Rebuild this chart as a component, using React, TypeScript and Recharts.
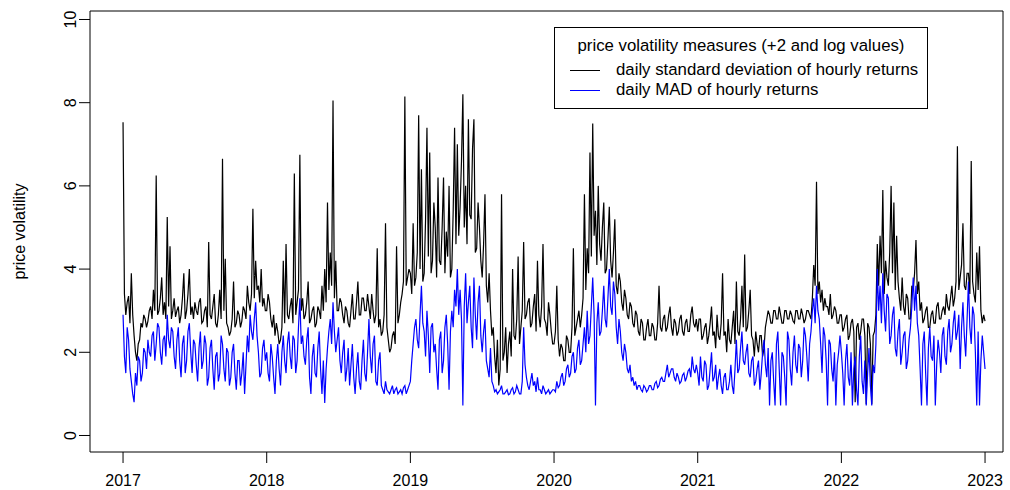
import React from "react"
import {
  LineChart,
  Line,
  XAxis,
  YAxis,
  Legend,
  ReferenceArea
} from "recharts"

const FONT = '"Liberation Sans", Arial, Helvetica, sans-serif'

// two values per week, 104 per year
const years = [2017, 2018, 2019, 2020, 2021, 2022]

const sd2017 = [7.53, 3.4, 2.9, 3.2, 3.35, 2.7, 3.9, 2.9, 2.4, 2.0, 1.8, 2.2, 2.3, 2.7, 2.6, 2.9, 2.8, 2.6, 2.75, 3.0, 3.1, 2.8, 3.5, 3.0, 6.25, 2.9, 3.0, 3.3, 3.8, 2.9, 3.2, 2.8, 5.25, 3.1, 4.55, 2.8, 3.0, 3.3, 2.85, 3.0, 3.1, 2.7, 2.9, 3.3, 3.9, 2.8, 3.0, 3.4, 4.0, 2.9, 3.1, 2.8, 3.2, 3.0, 2.9, 3.2, 3.3, 2.7, 2.75, 3.0, 3.1, 2.6, 4.65, 2.9, 2.8, 3.1, 3.4, 2.7, 2.6, 2.9, 3.5, 2.8, 6.65, 3.0, 4.25, 2.7, 2.6, 2.4, 2.5, 2.8, 3.7, 2.6, 2.7, 3.0, 2.9, 2.6, 2.75, 3.1, 3.0, 2.8, 3.6, 3.2, 3.0, 3.4, 5.45, 3.3, 4.2, 3.5, 3.6, 3.2, 4.0, 3.1, 3.3, 3.0]
const sd2018 = [3.0, 3.4, 3.2, 2.8, 2.6, 2.9, 2.4, 2.7, 2.5, 2.2, 2.3, 2.6, 4.2, 2.7, 4.6, 2.9, 2.8, 3.1, 3.3, 2.7, 6.3, 2.9, 3.2, 3.5, 6.75, 3.0, 3.3, 2.8, 2.9, 3.2, 3.7, 2.7, 2.8, 3.0, 3.1, 2.6, 2.7, 3.1, 3.0, 2.8, 3.6, 3.0, 4.0, 3.2, 5.6, 3.5, 4.4, 3.6, 8.05, 3.3, 4.2, 3.0, 3.0, 3.3, 3.2, 2.9, 2.7, 3.1, 3.0, 2.7, 2.6, 3.0, 3.4, 2.8, 2.8, 3.2, 3.7, 2.9, 2.9, 3.3, 3.3, 3.0, 3.0, 3.4, 3.1, 2.8, 3.4, 3.0, 2.7, 2.9, 4.5, 2.6, 2.8, 2.4, 2.5, 2.9, 5.1, 2.6, 2.3, 2.0, 2.1, 2.4, 2.5, 2.2, 4.55, 2.7, 2.9, 3.2, 3.4, 3.7, 8.15, 3.6, 3.8, 4.0]
const sd2019 = [3.9, 3.4, 5.1, 3.6, 3.8, 4.4, 7.7, 4.0, 6.4, 3.7, 3.9, 5.2, 7.4, 4.3, 6.8, 3.9, 4.2, 5.6, 5.0, 3.8, 6.2, 4.2, 4.1, 5.0, 6.2, 3.9, 4.9, 4.3, 6.0, 3.8, 4.0, 5.4, 7.4, 4.6, 7.0, 4.8, 5.5, 6.6, 8.2, 5.0, 6.0, 4.6, 7.6, 5.3, 5.2, 6.9, 7.6, 4.4, 4.5, 5.6, 5.0, 4.2, 3.8, 4.6, 5.8, 3.6, 3.2, 3.9, 3.0, 2.4, 2.6, 1.9, 1.5, 2.3, 1.2, 1.6, 5.8, 1.8, 2.0, 2.6, 1.5, 2.2, 2.5, 1.9, 4.0, 2.4, 2.3, 2.8, 4.3, 2.2, 2.6, 3.0, 4.65, 2.8, 2.9, 3.2, 3.3, 2.6, 2.7, 3.1, 3.4, 2.5, 4.2, 2.9, 2.6, 3.1, 4.6, 2.8, 2.7, 2.4, 3.2, 2.9, 2.5, 2.2]
const sd2020 = [2.2, 2.5, 3.6, 2.3, 1.9, 2.2, 2.1, 1.8, 1.8, 2.4, 2.3, 2.0, 2.0, 2.6, 4.5, 2.4, 2.6, 2.8, 3.0, 2.6, 2.9, 3.3, 5.8, 3.5, 4.5, 3.9, 6.8, 4.3, 7.5, 4.8, 5.4, 4.1, 6.0, 4.6, 4.2, 5.0, 5.6, 3.9, 4.0, 4.7, 5.5, 4.2, 3.8, 4.4, 5.2, 3.6, 3.4, 3.9, 3.7, 3.2, 3.0, 3.5, 3.3, 2.9, 2.8, 3.2, 3.1, 2.7, 2.6, 3.0, 2.9, 2.5, 2.4, 2.8, 2.7, 2.3, 2.3, 2.6, 2.8, 2.4, 2.4, 2.7, 2.6, 2.3, 2.3, 2.7, 3.6, 2.6, 2.5, 2.8, 2.9, 2.5, 2.6, 2.9, 3.1, 2.6, 2.4, 2.8, 2.7, 2.4, 2.5, 2.8, 2.9, 2.5, 2.4, 2.7, 2.8, 2.5, 2.5, 2.9, 3.1, 2.7, 2.6, 2.8]
const sd2021 = [2.5, 2.8, 2.8, 2.3, 2.4, 2.6, 2.7, 2.2, 2.4, 2.7, 3.1, 2.4, 2.5, 2.1, 2.9, 2.4, 2.3, 2.7, 3.9, 2.4, 2.5, 2.0, 2.8, 2.3, 2.2, 2.6, 3.0, 2.2, 3.7, 2.5, 2.4, 2.8, 3.6, 2.6, 4.35, 2.5, 2.6, 3.0, 3.5, 2.4, 2.3, 1.9, 2.5, 2.2, 2.0, 2.4, 2.4, 1.9, 2.1, 2.6, 2.8, 3.0, 2.9, 2.7, 2.7, 3.0, 3.0, 2.8, 2.8, 3.1, 2.9, 2.7, 2.7, 3.0, 3.0, 2.8, 2.8, 3.0, 2.9, 2.75, 2.7, 3.0, 3.0, 2.8, 2.8, 3.05, 2.9, 2.7, 2.8, 3.0, 3.0, 2.9, 2.8, 3.3, 4.1, 3.6, 6.1, 3.4, 3.7, 3.2, 3.5, 3.0, 3.3, 3.1, 3.1, 2.9, 3.4, 2.8, 2.9, 3.1, 3.0, 2.7, 2.7, 2.9]
const sd2022 = [2.9, 2.5, 2.6, 2.8, 2.9, 2.3, 2.4, 2.7, 2.8, 2.5, 0.8, 2.6, 2.7, 2.3, 2.5, 2.8, 2.8, 2.4, 0.75, 2.7, 2.6, 2.2, 0.75, 2.4, 2.5, 2.9, 4.6, 3.6, 4.8, 3.9, 5.9, 3.4, 4.2, 3.8, 3.6, 4.4, 6.0, 3.9, 5.6, 3.5, 4.8, 3.7, 3.3, 3.0, 3.8, 3.1, 2.9, 3.4, 3.3, 2.8, 2.8, 3.6, 3.5, 3.9, 4.7, 3.4, 3.7, 3.0, 3.2, 2.7, 2.8, 3.0, 3.1, 2.6, 2.6, 2.9, 3.0, 2.7, 2.7, 3.1, 3.2, 2.8, 2.8, 3.0, 3.1, 2.9, 3.4, 3.1, 3.0, 3.3, 3.6, 3.1, 3.3, 3.7, 6.95, 3.5, 3.8, 4.1, 5.1, 3.6, 3.5, 3.9, 3.9, 3.4, 6.6, 3.7, 3.4, 3.2, 4.4, 3.5, 4.55, 3.0, 2.7, 2.9]
const sdLast = 2.75

const mad2017 = [2.9, 1.9, 1.5, 2.6, 2.3, 1.6, 1.3, 1.0, 0.8, 1.5, 1.2, 1.9, 1.8, 1.3, 1.5, 2.1, 2.0, 1.6, 2.3, 2.0, 1.9, 2.4, 2.5, 1.8, 2.2, 2.7, 2.6, 2.0, 1.7, 2.3, 2.4, 1.9, 2.9, 2.3, 2.1, 2.6, 2.5, 1.9, 1.6, 2.3, 2.6, 1.8, 1.4, 2.2, 2.4, 1.5, 1.8, 2.5, 2.7, 2.0, 1.5, 2.3, 2.2, 1.7, 1.3, 2.1, 2.5, 1.6, 1.8, 2.4, 2.2, 1.2, 1.4, 2.1, 2.3, 1.6, 1.1, 1.9, 2.0, 1.3, 1.5, 2.4, 2.2, 1.6, 1.3, 2.1, 2.0, 1.2, 1.4, 2.0, 2.2, 1.5, 1.1, 1.8, 1.8, 1.2, 1.5, 2.0, 1.0, 1.7, 2.4, 2.0, 2.9, 2.5, 2.3, 2.8, 3.2, 2.4, 2.0, 1.4, 1.5, 2.1, 2.3, 1.8]
const mad2018 = [2.0, 1.5, 1.3, 2.2, 1.9, 1.4, 1.0, 1.8, 2.2, 1.6, 1.2, 2.0, 2.4, 1.8, 1.5, 2.2, 2.5, 1.9, 1.6, 2.4, 2.3, 1.5, 1.8, 2.6, 3.3, 2.2, 2.4, 1.9, 1.7, 2.3, 2.6, 1.4, 1.0, 1.9, 2.2, 1.5, 1.4, 2.1, 2.5, 1.6, 1.0, 1.8, 0.78, 1.6, 2.1, 2.5, 2.8, 2.2, 3.2, 2.5, 2.0, 2.3, 2.6, 1.8, 1.5, 2.0, 2.3, 1.3, 1.6, 2.1, 1.2, 1.7, 2.2, 1.4, 1.0, 1.6, 2.0, 1.3, 1.1, 1.8, 2.3, 1.5, 1.3, 2.0, 2.8, 1.9, 1.5, 2.2, 2.4, 1.3, 1.2, 1.8, 2.0, 1.2, 1.1, 1.0, 1.3, 1.1, 1.05, 1.0, 1.1, 1.2, 1.0, 1.1, 1.15, 1.0, 1.05, 1.1, 1.0, 1.15, 1.2, 1.0, 1.1, 1.2]
const mad2019 = [1.3, 1.8, 2.2, 2.6, 2.8, 2.3, 2.1, 2.9, 3.6, 2.7, 2.5, 1.9, 3.0, 2.4, 1.5, 2.6, 2.7, 2.0, 2.2, 1.6, 1.1, 2.3, 2.5, 1.5, 1.8, 2.6, 2.9, 2.2, 1.1, 2.5, 3.0, 2.6, 3.5, 3.1, 4.0, 2.9, 3.5, 2.8, 0.72, 3.1, 3.9, 2.7, 3.2, 3.6, 2.6, 2.1, 3.8, 2.9, 2.3, 3.2, 3.6, 2.4, 2.0, 2.5, 2.8, 1.8, 1.6, 1.4, 2.1, 1.3, 1.2, 1.05, 1.1, 1.0, 1.05, 1.1, 1.2, 1.0, 1.0, 1.05, 1.1, 0.98, 1.0, 1.1, 1.15, 1.0, 1.05, 1.2, 1.1, 1.0, 1.0, 1.3, 2.6, 1.7, 1.4, 1.2, 1.1, 1.3, 1.5, 1.2, 1.3, 1.05, 1.4, 1.1, 1.1, 1.0, 1.2, 1.1, 1.0, 1.05, 1.1, 1.0, 1.05, 1.1]
const mad2020 = [1.1, 1.05, 1.3, 1.15, 1.2, 1.4, 1.5, 1.2, 1.3, 1.6, 1.7, 1.4, 1.5, 1.9, 2.0, 1.5, 1.6, 2.1, 2.3, 1.7, 1.8, 2.2, 2.6, 2.0, 3.0, 2.2, 2.4, 3.1, 3.8, 2.9, 0.72, 2.7, 3.2, 2.4, 2.5, 3.0, 3.6, 2.8, 2.6, 3.3, 4.0, 3.1, 2.9, 3.7, 3.4, 2.6, 2.2, 2.8, 2.5, 2.0, 1.8, 2.2, 2.0, 1.6, 1.5, 1.7, 1.3, 1.4, 1.2, 1.3, 1.1, 1.2, 1.2, 1.1, 1.05, 1.2, 1.15, 1.05, 1.1, 1.2, 1.2, 1.1, 1.1, 1.25, 1.3, 1.15, 1.2, 1.35, 1.4, 1.3, 1.3, 1.5, 1.7, 1.4, 1.5, 1.6, 1.6, 1.4, 1.3, 1.5, 1.4, 1.25, 1.3, 1.45, 1.5, 1.3, 1.4, 1.55, 1.6, 1.4, 1.9, 1.6, 1.5, 1.7]
const mad2021 = [1.5, 1.2, 1.9, 1.4, 1.3, 1.8, 1.7, 1.1, 1.2, 1.6, 2.0, 1.3, 1.4, 1.7, 1.1, 1.4, 1.6, 1.2, 1.0, 1.4, 1.5, 1.1, 1.1, 1.3, 1.7, 1.2, 1.0, 1.6, 2.3, 1.5, 1.6, 2.1, 2.5, 1.8, 1.7, 2.0, 2.2, 1.5, 1.4, 1.8, 1.9, 1.2, 1.3, 1.6, 1.8, 1.1, 1.5, 2.0, 2.3, 1.7, 1.4, 2.1, 0.72, 1.8, 2.0, 1.3, 0.72, 2.2, 2.5, 1.6, 0.72, 2.0, 1.9, 1.4, 0.72, 2.5, 2.3, 1.6, 1.2, 2.0, 2.4, 1.7, 1.5, 2.2, 2.1, 1.4, 1.8, 2.6, 2.4, 1.9, 1.3, 2.2, 2.5, 3.0, 3.3, 2.7, 3.6, 3.0, 2.8, 2.2, 1.5, 2.6, 2.4, 1.8, 0.72, 2.3, 2.2, 1.6, 1.3, 2.0, 0.72, 1.7, 2.0, 2.4]
const mad2022 = [2.0, 1.5, 0.72, 1.8, 2.2, 1.4, 1.2, 2.0, 0.72, 1.6, 1.9, 1.1, 0.72, 1.9, 2.4, 1.3, 1.0, 1.8, 0.72, 1.5, 2.1, 1.2, 0.72, 1.7, 1.5, 2.2, 4.0, 3.0, 3.6, 2.7, 3.9, 3.0, 2.5, 3.4, 3.3, 2.2, 2.4, 2.9, 3.1, 2.1, 1.9, 2.5, 2.8, 1.7, 2.0, 2.4, 2.5, 1.6, 1.8, 2.3, 2.6, 3.1, 3.8, 3.0, 3.6, 2.7, 2.4, 1.6, 0.72, 2.2, 2.5, 1.5, 0.72, 2.1, 2.6, 1.9, 1.8, 2.4, 0.72, 1.7, 2.3, 2.0, 1.5, 2.4, 2.6, 1.9, 1.7, 2.5, 2.8, 2.0, 2.2, 2.7, 3.0, 2.3, 2.5, 2.9, 1.6, 2.6, 3.2, 2.4, 1.9, 2.8, 3.7, 2.6, 2.2, 3.1, 2.9, 2.0, 0.72, 2.5, 0.72, 1.8, 2.4, 2.0]
const madLast = 1.6

const xTicks = [2017, 2018, 2019, 2020, 2021, 2022, 2023]
const yTicks = [0, 2, 4, 6, 8, 10]

const legendTitle = "price volatility measures (+2 and log values)"
const legendItems = [
  { label: "daily standard deviation of hourly returns", color: "#000" },
  { label: "daily MAD of hourly returns", color: "#0000ff" }
]

const sdByYear = [sd2017, sd2018, sd2019, sd2020, sd2021, sd2022]
const madByYear = [mad2017, mad2018, mad2019, mad2020, mad2021, mad2022]

const data = years.flatMap((yr, k) =>
  sdByYear[k].map((v, i) => ({ t: yr + i / 104, sd: v, mad: madByYear[k][i] }))
)
data.push({ t: 2023, sd: sdLast, mad: madLast })

const X_DOMAIN = [2016.77, 2023.125]
const Y_DOMAIN = [-0.397, 10.204]

const XTick = ({ x, y, payload }: any) => (
  <text x={x} y={y + 21} textAnchor="middle" fontFamily={FONT} fontSize={16} fill="#000">
    {payload.value}
  </text>
)

const YTick = ({ x, y, payload }: any) => {
  const bx = x - 1
  return (
    <text
      x={bx}
      y={y}
      transform={`rotate(-90 ${bx} ${y})`}
      textAnchor="middle"
      fontFamily={FONT}
      fontSize={16}
      fill="#000"
    >
      {payload.value}
    </text>
  )
}

const LegendBox = () => (
  <div
    style={{
      position: "relative",
      width: 374,
      height: 82,
      border: "1px solid #000",
      boxSizing: "border-box",
      background: "#fff",
      fontFamily: FONT,
      fontSize: 16.8,
      color: "#000"
    }}
  >
    <div style={{ position: "absolute", left: 0, right: 0, top: 9, lineHeight: "18px", textAlign: "center" }}>
      {legendTitle}
    </div>
    {legendItems.map((it, i) => (
      <div key={it.label} style={{ position: "absolute", left: 0, top: 33 + i * 20, height: 18, width: "100%" }}>
        <div style={{ position: "absolute", left: 15, top: 9, width: 30, height: 1, background: it.color }} />
        <div style={{ position: "absolute", left: 61, top: 0, lineHeight: "18px", whiteSpace: "nowrap" }}>
          {it.label}
        </div>
      </div>
    ))}
  </div>
)

export default function App() {
  return (
    <div style={{ position: "absolute", left: 0, top: 0, width: 1010, height: 490, background: "#fff" }}>
      <LineChart width={1010} height={490} data={data} margin={{ top: 11, right: 7, bottom: 0, left: 0 }}>

        {/* plot frame */}
        <ReferenceArea
          x1={X_DOMAIN[0]}
          x2={X_DOMAIN[1]}
          y1={Y_DOMAIN[0]}
          y2={Y_DOMAIN[1]}
          fill="none"
          stroke="#000"
          strokeWidth={1}
          ifOverflow="visible"
        />

        <XAxis
          type="number"
          dataKey="t"
          domain={X_DOMAIN}
          ticks={xTicks}
          allowDataOverflow
          axisLine={false}
          tickLine={{ stroke: "#000" }}
          tickSize={11}
          tickMargin={2}
          height={38}
          tick={<XTick />}
        />
        <YAxis
          type="number"
          domain={Y_DOMAIN}
          ticks={yTicks}
          allowDataOverflow
          axisLine={false}
          tickLine={{ stroke: "#000" }}
          tickSize={11}
          tickMargin={2}
          width={90}
          tick={<YTick />}
        />

        <Legend
          layout="vertical"
          align="center"
          verticalAlign="middle"
          wrapperStyle={{ left: 554, top: 27, width: 374, height: 82 }}
          content={<LegendBox />}
        />

        <Line
          type="linear"
          dataKey="sd"
          stroke="#000"
          strokeWidth={1.2}
          dot={false}
          isAnimationActive={false}
        />
        <Line
          type="linear"
          dataKey="mad"
          stroke="#0000ff"
          strokeWidth={1.2}
          dot={false}
          isAnimationActive={false}
        />

        {/* y axis title */}
        <text
          x={24.5}
          y={231.5}
          transform="rotate(-90 24.5 231.5)"
          textAnchor="middle"
          fontFamily={FONT}
          fontSize={16}
          fill="#000"
        >
          price volatility
        </text>
      </LineChart>
    </div>
  )
}
